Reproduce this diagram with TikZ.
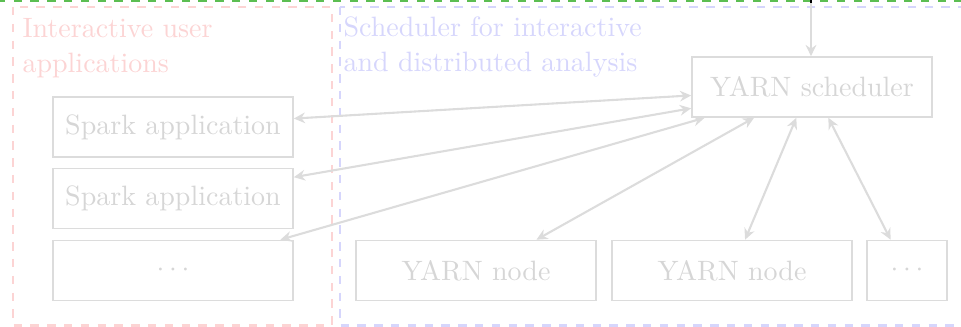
\documentclass[tikz,border=0pt]{standalone}
\usetikzlibrary{arrows.meta}
\definecolor{fadegray}{RGB}{220,220,220}
\definecolor{fadetext}{RGB}{214,214,214}
\definecolor{fadepink}{RGB}{252,212,212}
\definecolor{fadeblue}{RGB}{214,214,252}
\definecolor{framegreen}{RGB}{92,190,82}
\begin{document}
\begin{tikzpicture}[x=0.35714pt,y=-0.35714pt,
  >={Stealth[length=4pt,width=3.8pt,inset=1.3pt]},
  box/.style={draw=fadegray, line width=0.6pt, text=fadetext,
    minimum width=85.7pt, minimum height=21.4pt, inner sep=0pt},
  smallbox/.style={box, minimum width=28.6pt},
  link/.style={draw=fadegray, line width=0.75pt, <->},
  feedlink/.style={draw=fadegray, line width=0.75pt, ->},
  group/.style={dashed, line width=1pt},
  caption/.style={anchor=north west, align=left, inner sep=0pt}]
\useasboundingbox (0,0) rectangle (961,327);
\clip (0,0) rectangle (961,327);

% outer frame edge along the top
\draw[framegreen, group] (-20,0.5) -- (980,0.5);

% the two groups
\draw[fadepink, group] (13,7) rectangle (332,325.5);
\draw[fadeblue, group] (340,7) rectangle (990,325.5);
\node[caption, text=fadepink] (appcap) at (22,18) {Interactive user\\[0.5pt]applications};
\node[caption, text=fadeblue] (schcap) at (343,16.6) {Scheduler for interactive\\[0.5pt]and distributed analysis};

% applications
\node[box] (s1) at (173,127) {Spark application};
\node[box] (s2) at (173,198.5) {Spark application};
\node[box] (s3) at (173,270.5) {$\cdots$};

% scheduler and worker nodes
\node[box] (sch) at (812,87) {YARN scheduler};
\node[box] (n1) at (476,270.5) {YARN node};
\node[box] (n2) at (732,270.5) {YARN node};
\node[smallbox] (nd) at (907,270.5) {$\cdots$};

% incoming request from above
\coordinate (feedtop) at (811,0);
\coordinate (feed) at (811,3.5);
\draw[black, line width=0.8pt] (feedtop) -- (feed);
\draw[feedlink] (feed) -- (feed |- sch.north);

% scheduler links
\draw[link] (s1.4) -- (sch.184);
\draw[link] (s2.10) -- (sch.190);
\draw[link] (s3.16) -- (sch.196);
\draw[link] (n1.27) -- (sch.208);
\draw[link] (n2.67) -- (sch.243);
\draw[link] (nd.118) -- (sch.298);
\end{tikzpicture}
\end{document}
